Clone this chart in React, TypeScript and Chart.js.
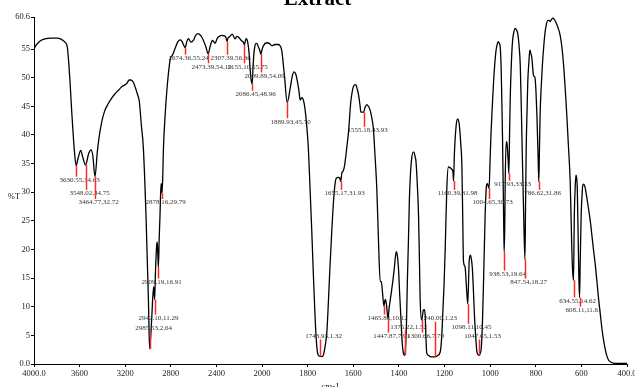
import React, { useEffect, useRef } from 'react';
import { Chart, registerables } from 'chart.js';

Chart.register(...registerables);

// Spectrum: wavenumber (cm-1) and transmittance (%T)
const WAVENUMBERS = [
  4000, 3977, 3940, 3903, 3850, 3801, 3760, 3728, 3708, 3695, 3684, 3672, 3660, 3645, 3630.55, 3615, 3590, 3575, 3548.02, 3520, 3500, 3485, 3464.77, 3445, 3430, 3406, 3380, 3348, 3320, 3289, 3260, 3231, 3187, 3165, 3150, 3129, 3110, 3099, 3088, 3076, 3060, 3041, 3018, 2997, 2990, 2985.53, 2976, 2965, 2959, 2950, 2942.1, 2935, 2924, 2919, 2914, 2909.19, 2902, 2895, 2886, 2882, 2878.16, 2872, 2865, 2850, 2836, 2813, 2800, 2790, 2763, 2740, 2720, 2704, 2690, 2674.36, 2660, 2646, 2623, 2603, 2585, 2564, 2545, 2529, 2510, 2490, 2473.39, 2456, 2436, 2420, 2412, 2395, 2383, 2354, 2330, 2318, 2307.39, 2297, 2287, 2261, 2237, 2220, 2208, 2178, 2165, 2155.1, 2148, 2140, 2126, 2115, 2105, 2095, 2086.45, 2080, 2073, 2063, 2053, 2043, 2033, 2020, 2009.89, 2002,
  1994, 1979, 1968, 1958, 1943, 1928, 1920, 1914, 1902, 1889.93, 1877, 1868, 1860, 1852, 1845, 1838, 1833, 1826, 1822, 1816, 1811, 1804, 1797, 1790, 1782, 1775, 1768, 1762, 1756, 1750, 1743.93, 1737, 1731, 1724, 1716, 1709, 1702, 1694, 1687, 1680, 1675, 1665, 1660, 1655.17, 1650, 1646, 1640, 1636, 1628, 1621, 1611, 1605, 1600, 1592, 1588, 1582, 1577, 1570, 1567, 1560, 1555.18, 1548, 1541, 1534, 1526, 1518, 1512, 1505, 1497, 1490, 1482, 1477, 1472, 1465.86, 1462, 1459, 1455, 1447.87, 1443, 1439, 1433, 1427, 1420, 1412, 1408, 1402, 1397, 1392, 1386, 1380, 1375.22, 1371, 1367, 1363, 1358, 1354, 1349, 1344, 1338, 1334, 1329, 1325, 1319, 1314, 1310, 1307, 1300.66, 1296, 1293, 1289, 1285, 1281, 1278, 1270, 1263, 1250, 1240, 1230, 1219, 1212, 1208, 1202, 1197, 1190, 1183, 1176, 1168, 1163, 1160.39, 1157, 1149, 1142, 1138, 1135, 1129, 1124, 1120, 1117, 1110, 1104, 1098.11, 1092, 1087, 1083, 1078, 1073, 1069, 1063, 1058, 1052, 1047.65, 1043, 1039, 1034, 1029, 1022, 1016, 1012, 1008, 1004.65, 1000, 996, 990, 985, 975, 968, 964, 960, 956, 952, 949, 946, 943, 940, 938.53, 936, 934, 930, 927, 925, 921, 917.93, 915, 912, 907, 902, 896, 890, 885, 879, 873, 868, 863, 858, 853, 847.54, 845, 842, 838, 835, 830, 827, 825, 822, 817, 813, 810, 806, 803, 799, 795, 790, 786.62, 784, 781, 776, 771, 765, 759, 753, 747, 742, 737, 731, 725, 719, 712, 703, 693, 685, 678, 671, 664, 656, 649, 642, 638, 634.55, 631, 627, 624, 621, 618, 614, 611, 608.11, 605, 601, 597, 594, 590, 583, 576, 569, 561, 554, 547, 539, 532, 525, 517, 510, 503, 496, 489, 481, 470, 459, 440, 420, 400,
];

const TRANSMITTANCE = [
  55.1, 55.8, 56.5, 56.8, 56.9, 56.9, 56.7, 56.2, 55.4, 52.5, 49.3, 45, 41.2, 37, 34.63, 35.8, 37.3, 36.3, 34.75, 36.8, 37.4, 36.5, 32.72, 37, 39.5, 42.3, 44.2, 45.5, 46.4, 47.2, 47.8, 48.4, 49.0, 49.6, 49.6, 49.2, 48.2, 47.5, 46.8, 45.8, 42, 37.7, 26, 11.5, 5, 2.64, 5, 9, 11.5, 13.5, 11.29, 16, 20.8, 21.3, 19, 16.91, 22, 26, 31.5, 31.3, 29.79, 32, 37.6, 43.5, 47.5, 52.2, 53.6, 53.8, 55.1, 56.2, 56.6, 56.4, 55.8, 55.24, 56.3, 56.8, 56.2, 56.5, 57.3, 57.7, 57.5, 57.1, 56.3, 55.2, 54.19, 55.4, 56.5, 56.2, 56.0, 56.8, 57.1, 57.4, 57.3, 57.1, 56.36, 57, 57.1, 57.6, 56.8, 57.2, 57.1, 56.4, 56.2, 55.75, 56.3, 56.8, 56.2, 54.5, 51.6, 49.5, 48.96, 51.5, 53.9, 55.5, 56, 55.9, 55.4, 54.8, 54.09, 54.8,
  55.6, 56.1, 56.0, 55.6, 55.8, 55.8, 55.5, 54.8, 50.4, 45.7, 48.1, 50.2, 51.0, 50.6, 49.3, 47.6, 46.1, 46.5, 46.4, 45.6, 44.3, 41.5, 37.6, 31, 23.1, 15.5, 8.6, 4.0, 1.8, 1.4, 1.32, 1.3, 1.6, 3.0, 5.6, 11, 17.3, 23.5, 28.3, 31.5, 32.4, 32.6, 32.5, 31.93, 33.4, 33.6, 34.3, 35.3, 38, 40.5, 45.8, 47.5, 48.4, 48.8, 48.7, 47.9, 47.0, 45, 44.0, 44.0, 43.93, 44.9, 45.3, 45.0, 44.3, 42.8, 41.1, 36.5, 30.7, 22, 14.4, 14.4, 12.5, 10.12, 11, 11.3, 10.5, 7.91, 9.8, 10.9, 12.6, 14.4, 16.8, 19.6, 19.2, 16.7, 12.5, 8.6, 4, 1.8, 1.52, 2.8, 7, 14.4, 22, 28.9, 33.5, 35.9, 37.0, 37.0, 36.2, 35.3, 31, 26, 18, 11.5, 7.7, 8.6, 9.4, 9.5, 8.6, 4, 1.9, 1.5, 1.3, 1.25, 1.23, 1.5, 2.1, 5, 8.6, 14, 20.2, 30.7, 34.4, 34.3, 34.0, 33.5, 31.98, 36.5, 41.7, 42.8, 42.4, 41.7, 38.5, 34.7, 25, 17.9, 17.0, 13.5, 10.45, 17.9, 19.0, 18.5, 16.7, 12.5, 8.6, 4.5, 2.1, 1.6, 1.53, 1.9, 2.8, 7, 14.4, 26, 31.2, 31.5, 31.0, 30.73, 36, 40.5, 45.5, 49.3, 54.5, 56, 56.3, 56, 55.4, 52, 46.4, 40, 31.8, 23, 19.64, 24, 31.8, 38.8, 38.8, 38.0, 35.5, 33.33, 40, 46.4, 52.5, 56.3, 58, 58.6, 58.4, 57.7, 55.5, 52.2, 44, 34.7, 26, 18.27, 27, 37.6, 44.5, 49.3, 52.8, 54.5, 54.8, 54.3, 53.4, 51.5, 50.4, 50.2, 49.9, 47.5, 43.5, 36.5, 31.86, 37, 43.5, 48.5, 52.2, 55.5, 58, 59.4, 60, 60.0, 59.8, 60.2, 60.4, 60.2, 59.7, 58.8, 57.4, 55.2, 52.2, 48.2, 43.5, 37.5, 31.8, 20.2, 16, 14.62, 26, 31, 33, 32.5, 30.7, 22, 15, 11.61, 18, 26, 29.5, 31.2, 31.4, 30.7, 29, 27.2, 25, 22.5, 20, 17.3, 14.5, 11.5, 8.7, 6.2, 4.2, 2.7, 1.5, 0.7, 0.3, 0.15, 0.1, 0.1, 0.1,
];

// Peak annotations: wavenumber, %T, and %T level at which the label sits
const PEAK_WN = [3630.55, 3548.02, 3464.77, 2878.16, 2909.19, 2942.1, 2985.53, 2674.36, 2473.39, 2307.39, 2155.1, 2009.89, 2086.45, 1889.93, 1655.17, 1555.18, 1160.39, 1004.65, 917.93, 786.62, 938.53, 847.54, 634.55, 608.11, 1743.93, 1465.86, 1447.87, 1375.22, 1300.66, 1240.0, 1098.11, 1047.65];
const PEAK_T = [34.63, 34.75, 32.72, 29.79, 16.91, 11.29, 2.64, 55.24, 54.19, 56.36, 55.75, 54.09, 48.96, 45.7, 31.93, 43.93, 31.98, 30.73, 33.33, 31.86, 19.64, 18.27, 14.62, 11.61, 1.32, 10.12, 7.91, 1.52, 7.7, 1.23, 10.45, 1.53];
const PEAK_LABEL_AT = [32.1, 29.8, 28.2, 28.2, 14.3, 8.0, 6.3, 53.4, 51.9, 53.4, 51.9, 50.3, 47.1, 42.3, 29.8, 40.8, 29.8, 28.2, 31.4, 29.8, 15.7, 14.3, 11.0, 9.4, 4.9, 8.0, 4.9, 6.5, 4.9, 8.0, 6.4, 4.9];

const X_TICKS = [4000, 3600, 3200, 2800, 2400, 2000, 1800, 1600, 1400, 1200, 1000, 800, 600, 400];
const Y_TICKS = [0, 5, 10, 15, 20, 25, 30, 35, 40, 45, 50, 55, 60.6];

const TITLE = 'Extract';
const X_TITLE = 'cm-1';
const Y_TITLE = '%T';

// Axis scale changes at 2000 cm-1 (half compression above 2000)
function toU(w: number): number {
  return w >= 2000 ? (4000 - w) / 2 : 1000 + (2000 - w);
}
function fromU(u: number): number {
  return u <= 1000 ? 4000 - 2 * u : 2000 - (u - 1000);
}

const SERIF = '"Liberation Serif", "Times New Roman", serif';

const annotationPlugin = {
  id: 'irAnnotations',
  afterDatasetsDraw(chart: any) {
    const { ctx, scales, chartArea } = chart;
    const x = scales.x;
    const y = scales.y;
    ctx.save();
    ctx.font = `7px ${SERIF}`;
    ctx.textAlign = 'center';
    ctx.textBaseline = 'middle';
    for (let i = 0; i < PEAK_WN.length; i++) {
      const px = Math.round(x.getPixelForValue(toU(PEAK_WN[i]))) + 0.5;
      const py = y.getPixelForValue(PEAK_T[i]);
      const ly = y.getPixelForValue(PEAK_LABEL_AT[i]);
      const below = ly > py;
      const end = below ? ly - 3.5 : ly + 3.5;
      ctx.strokeStyle = 'rgb(255,40,40)';
      ctx.lineWidth = 1.5;
      ctx.beginPath();
      ctx.moveTo(px, py);
      ctx.lineTo(px, end);
      ctx.stroke();
      ctx.fillStyle = '#333';
      ctx.fillText(`${PEAK_WN[i].toFixed(2)},${PEAK_T[i].toFixed(2)}`, px + 3, ly);
    }
    // titles
    ctx.fillStyle = '#000';
    ctx.textAlign = 'center';
    ctx.textBaseline = 'alphabetic';
    ctx.font = `bold 21px ${SERIF}`;
    ctx.fillText(TITLE, chart.width / 2, 5);
    ctx.fillStyle = '#222';
    ctx.font = `9px ${SERIF}`;
    ctx.fillText(X_TITLE, (chartArea.left + chartArea.right) / 2, 389);
    ctx.font = `8.5px ${SERIF}`;
    ctx.textBaseline = 'middle';
    ctx.fillText(Y_TITLE, 14, 197);
    ctx.restore();
  },
};

export default function App() {
  const ref = useRef<HTMLCanvasElement | null>(null);
  useEffect(() => {
    document.body.style.margin = '0';
    const canvas = ref.current;
    if (!canvas) return;
    const chart = new Chart(canvas, {
      type: 'line',
      data: {
        datasets: [
          {
            data: WAVENUMBERS.map((w, i) => ({ x: toU(w), y: TRANSMITTANCE[i] })),
            borderColor: '#000',
            borderWidth: 1.3,
            pointRadius: 0,
            cubicInterpolationMode: 'monotone',
            fill: false,
          },
        ],
      },
      options: {
        responsive: false,
        animation: false,
        devicePixelRatio: 1,
        layout: { padding: { top: 17, right: 8, left: 0, bottom: 0 } },
        plugins: {
          legend: { display: false },
          tooltip: { enabled: false },
          title: { display: false },
        },
        scales: {
          x: {
            type: 'linear',
            min: 0,
            max: 2600,
            afterBuildTicks: (s: any) => {
              s.ticks = X_TICKS.map((w) => ({ value: toU(w) }));
            },
            afterFit: (s: any) => {
              s.height = 23;
              s.paddingLeft = 0;
              s.paddingRight = 0;
            },
            ticks: {
              autoSkip: false,
              maxRotation: 0,
              minRotation: 0,
              padding: 2,
              color: '#222',
              font: { family: SERIF, size: 8.5 },
              callback: (v: any) => {
                const w = Math.round(fromU(Number(v)));
                if (w === 4000 || w === 400) return w.toFixed(1);
                return String(w);
              },
            },
            grid: { display: true, drawOnChartArea: false, drawTicks: true, tickLength: 3, color: '#000' },
            border: { display: true, color: '#000', width: 1 },
          },
          y: {
            type: 'linear',
            min: 0,
            max: 60.6,
            afterBuildTicks: (s: any) => {
              s.ticks = Y_TICKS.map((v) => ({ value: v }));
            },
            afterFit: (s: any) => {
              s.width = 34;
              s.paddingTop = 0;
              s.paddingBottom = 0;
            },
            ticks: {
              autoSkip: false,
              padding: 1,
              color: '#222',
              font: { family: SERIF, size: 8.5 },
              callback: (v: any) => {
                const n = Number(v);
                if (n === 0) return '0.0';
                if (n === 60.6) return '60.6';
                return String(n);
              },
            },
            grid: { display: true, drawOnChartArea: false, drawTicks: true, tickLength: 3, color: '#000' },
            border: { display: true, color: '#000', width: 1 },
          },
        },
      },
      plugins: [annotationPlugin],
    } as any);
    return () => chart.destroy();
  }, []);
  return <canvas ref={ref} width={635} height={387} style={{ display: 'block' }} />;
}
